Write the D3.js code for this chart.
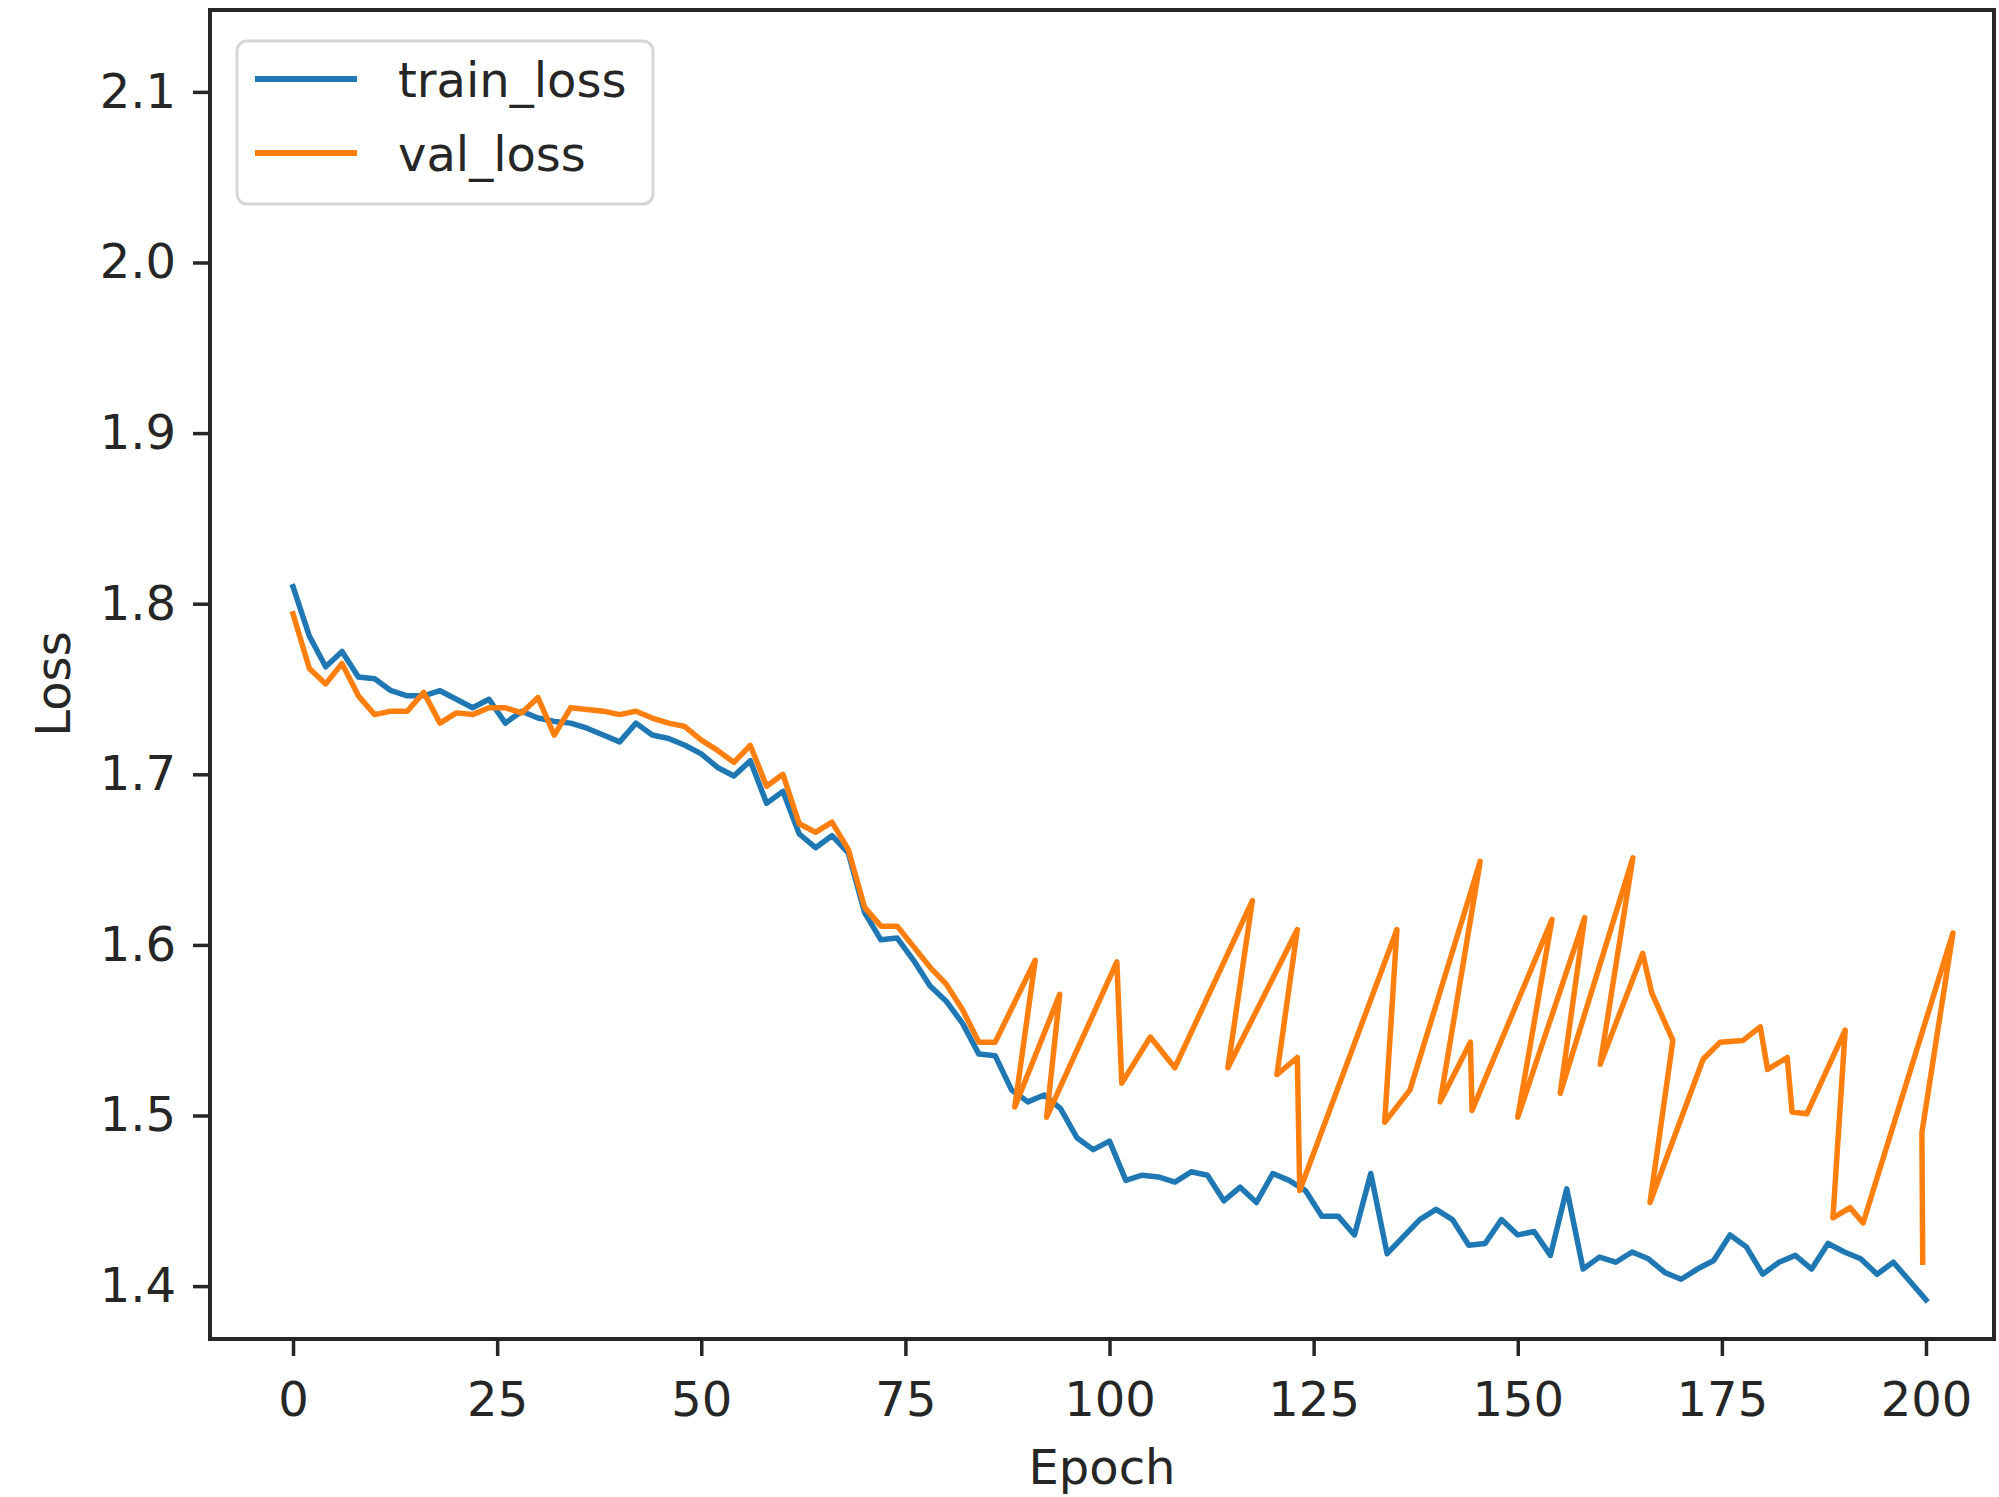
<!DOCTYPE html>
<html>
<head>
<meta charset="utf-8">
<script src="https://cdn.jsdelivr.net/npm/d3@7"></script>
<style>
  html, body { margin: 0; padding: 0; background: #fff; }
  svg { display: block; }
  text { font-family: "DejaVu Sans", sans-serif; fill: #262626; }
</style>
</head>
<body>
<svg id="chart" width="1999" height="1497"></svg>
<script>

// values
var trainEpoch = [0, 2, 4, 6, 8, 10, 12, 14, 16, 18, 20, 22, 24, 26, 28, 30, 32, 34, 36, 38, 40,
    42, 44, 46, 48, 50, 52, 54, 56, 58, 60, 62, 64, 66, 68, 70, 72, 74, 76, 78, 80,
    82, 84, 86, 88, 90, 92, 94, 96, 98, 100, 102, 104, 106, 108, 110, 112, 114, 116, 118, 120,
    122, 124, 126, 128, 130, 132, 134, 136, 138, 140, 142, 144, 146, 148, 150, 152, 154, 156, 158, 160,
    162, 164, 166, 168, 170, 172, 174, 176, 178, 180, 182, 184, 186, 188, 190, 192, 194, 196, 198, 200];

var trainLoss = [1.810, 1.781, 1.763, 1.772, 1.757, 1.756, 1.749, 1.746, 1.746, 1.749, 1.744,
    1.739, 1.744, 1.730, 1.737, 1.733, 1.731, 1.730, 1.727, 1.723, 1.719,
    1.730, 1.723, 1.721, 1.717, 1.712, 1.704, 1.699, 1.708, 1.683, 1.690,
    1.665, 1.657, 1.664, 1.654, 1.619, 1.603, 1.604, 1.591, 1.576, 1.567,
    1.554, 1.536, 1.535, 1.515, 1.508, 1.512, 1.504, 1.487, 1.480, 1.485,
    1.462, 1.465, 1.464, 1.461, 1.467, 1.465, 1.450, 1.458, 1.449, 1.466,
    1.462, 1.456, 1.441, 1.441, 1.430, 1.466, 1.419, 1.429, 1.439, 1.445,
    1.439, 1.424, 1.425, 1.439, 1.430, 1.432, 1.418, 1.457, 1.410, 1.417,
    1.414, 1.420, 1.416, 1.408, 1.404, 1.410, 1.415, 1.430, 1.423, 1.407,
    1.414, 1.418, 1.410, 1.425, 1.420, 1.416, 1.407, 1.414, 1.403, 1.392];

// the validation curve is logged against epochs that run backwards after epoch ~88
var valEpoch = [0, 2, 4, 6, 8, 10, 12, 14, 16, 18, 20, 22, 24, 26, 28, 30, 32, 34, 36, 38, 40,
    42, 44, 46, 48, 50, 52, 54, 56, 58, 60, 62, 64, 66, 68, 70, 72, 74, 76, 78, 80, 82, 84, 86,
    90.9, 88.4, 93.9, 92.3, 100.9, 101.5, 105.0, 108.0, 117.5, 114.5, 123.0, 120.5, 123.0, 123.3,
    135.2, 133.7, 136.8, 145.4, 140.5, 144.2, 144.4, 154.2, 150.0, 158.2, 155.2, 164.1, 160.1,
    165.3, 166.4, 169.0, 166.2, 172.7, 174.8, 177.6, 179.7, 180.6, 183.0, 183.6, 185.4,
    190.1, 188.6, 190.7, 192.3, 203.3, 199.5, 199.6];

var valLoss = [1.794, 1.762, 1.753, 1.765, 1.746, 1.735, 1.737, 1.737, 1.748, 1.730, 1.736,
    1.735, 1.739, 1.739, 1.736, 1.745, 1.723, 1.739, 1.738, 1.737, 1.735,
    1.737, 1.733, 1.730, 1.728, 1.720, 1.714, 1.707, 1.717, 1.693, 1.700,
    1.671, 1.666, 1.672, 1.656, 1.622, 1.611, 1.611, 1.599, 1.587, 1.577, 1.562, 1.543, 1.543,
    1.591, 1.505, 1.571, 1.499, 1.590, 1.519, 1.546, 1.528, 1.626, 1.528, 1.609, 1.524, 1.534, 1.456,
    1.609, 1.496, 1.515, 1.649, 1.508, 1.543, 1.503, 1.615, 1.499, 1.616, 1.513, 1.651, 1.530,
    1.595, 1.572, 1.544, 1.449, 1.533, 1.543, 1.544, 1.552, 1.527, 1.534, 1.502, 1.501,
    1.550, 1.440, 1.446, 1.437, 1.607, 1.490, 1.414];

var xTicks = [0, 25, 50, 75, 100, 125, 150, 175, 200];
var yTicks = [1.4, 1.5, 1.6, 1.7, 1.8, 1.9, 2.0, 2.1];
var seriesNames = ["train_loss", "val_loss"];
var seriesColors = ["#1f77b4", "#ff7f0e"];

var fontSize = 48,
    ink = "#262626";

var svg = d3.select("#chart");
var box = {left: 210, top: 10, right: 1994, bottom: 1339};

var x = d3.scaleLinear().domain([-10.17, 208.33]).range([box.left, box.right]);
var y = d3.scaleLinear().domain([1.369, 2.148]).range([box.bottom, box.top]);

svg.append("rect")
    .attr("width", 1999).attr("height", 1497)
    .attr("fill", "#fff");

// Axes
var xAxis = svg.append("g")
    .attr("transform", "translate(0," + box.bottom + ")")
    .call(d3.axisBottom(x).tickValues(xTicks).tickSize(17).tickPadding(26)
        .tickFormat(d3.format("d")));

var yAxis = svg.append("g")
    .attr("transform", "translate(" + box.left + ",0)")
    .call(d3.axisLeft(y).tickValues(yTicks).tickSize(17).tickPadding(17)
        .tickFormat(d3.format(".1f")));

[xAxis, yAxis].forEach(function(g) {
    g.select(".domain").remove();
    g.selectAll(".tick line").attr("stroke", ink).attr("stroke-width", 3.5);
    g.selectAll(".tick text")
        .attr("fill", ink)
        .style("font-size", fontSize + "px")
        .style("font-family", "'DejaVu Sans', sans-serif");
});

// Series
var series = [
    {name: seriesNames[0], color: seriesColors[0], xs: trainEpoch, ys: trainLoss},
    {name: seriesNames[1], color: seriesColors[1], xs: valEpoch, ys: valLoss}
];

var line = d3.line()
    .x(function(d) { return x(d[0]); })
    .y(function(d) { return y(d[1]); });

series.forEach(function(s) {
    var pts = s.xs.map(function(e, i) { return [e, s.ys[i]]; });
    svg.append("path")
        .datum(pts)
        .attr("fill", "none")
        .attr("stroke", s.color)
        .attr("stroke-width", 5.5)
        .attr("stroke-linejoin", "round")
        .attr("stroke-linecap", "square")
        .attr("d", line);
});

// Frame
svg.append("rect")
    .attr("x", box.left).attr("y", box.top)
    .attr("width", box.right - box.left)
    .attr("height", box.bottom - box.top)
    .attr("fill", "none")
    .attr("stroke", ink)
    .attr("stroke-width", 4);

// Axis titles
svg.append("text")
    .attr("x", (box.left + box.right) / 2)
    .attr("y", 1484)
    .attr("text-anchor", "middle")
    .style("font-size", fontSize + "px")
    .text("Epoch");

svg.append("text")
    .attr("transform", "translate(70,684) rotate(-90)")
    .attr("text-anchor", "middle")
    .style("font-size", fontSize + "px")
    .text("Loss");

// Legend
var legend = svg.append("g");
legend.append("rect")
    .attr("x", 237).attr("y", 41)
    .attr("width", 416).attr("height", 163)
    .attr("rx", 10).attr("ry", 10)
    .attr("fill", "#fff").attr("fill-opacity", 0.8)
    .attr("stroke", "#d6d6d6").attr("stroke-width", 3);

series.forEach(function(s, i) {
    var ly = 79 + i * 74;
    legend.append("line")
        .attr("x1", 255).attr("x2", 357)
        .attr("y1", ly).attr("y2", ly)
        .attr("stroke", s.color)
        .attr("stroke-width", 6);
    legend.append("text")
        .attr("x", 398)
        .attr("y", ly + 18)
        .style("font-size", fontSize + "px")
        .text(s.name);
});

</script>
</body>
</html>
